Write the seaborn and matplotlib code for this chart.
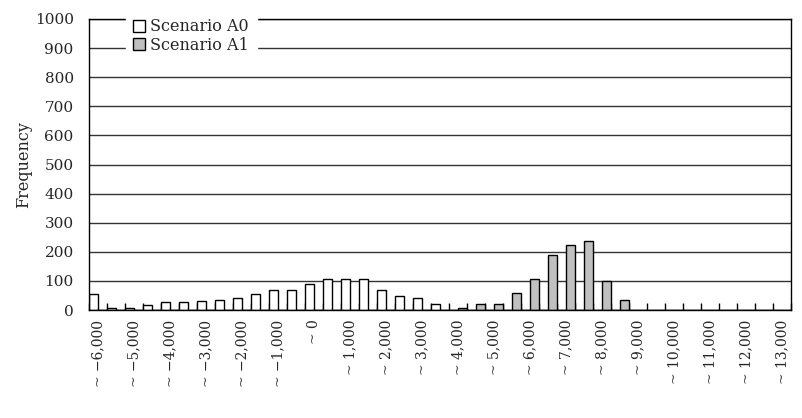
import matplotlib
matplotlib.use("Agg")
import matplotlib.pyplot as plt
from matplotlib.patches import Patch
import pandas as pd
import seaborn as sns
import numpy as np

# bins of 500, labelled by their upper bound
bins = [-6000, -5500, -5000, -4500, -4000, -3500, -3000, -2500, -2000, -1500,
        -1000, -500, 0, 500, 1000, 1500, 2000, 2500, 3000, 3500,
        4000, 4500, 5000, 5500, 6000, 6500, 7000, 7500, 8000, 8500,
        9000, 9500, 10000, 10500, 11000, 11500, 12000, 12500, 13000]

scenario_a0 = [55, 7, 6, 17, 28, 28, 32, 36, 40, 55,
               68, 68, 88, 106, 106, 106, 68, 49, 40, 19,
               0, 0, 0, 0, 0, 0, 0, 0, 0, 0,
               0, 0, 0, 0, 0, 0, 0, 0, 0]

scenario_a1 = [0, 0, 0, 0, 0, 0, 0, 0, 0, 0,
               0, 0, 0, 0, 0, 0, 0, 0, 0, 0,
               6, 19, 19, 57, 106, 190, 224, 238, 100, 33,
               0, 0, 0, 0, 0, 0, 0, 0, 0]

series_names = ["Scenario A0", "Scenario A1"]
colors = {"Scenario A0": "white", "Scenario A1": "#c0c0c0"}


def make_label(b):
    return "~ " + f"{b:,}".replace("-", "−")


def main():
    sns.set_theme(style="white")
    plt.rcParams["font.family"] = ["DejaVu Serif", "Noto Sans CJK JP"]
    plt.rcParams["font.size"] = 10

    labels = [make_label(b) for b in bins]
    df = pd.DataFrame({
        "bin": labels * 2,
        "count": scenario_a0 + scenario_a1,
        "scenario": [series_names[0]] * len(bins) + [series_names[1]] * len(bins),
    })

    fig = plt.figure(figsize=(8.03, 4.18), dpi=100)
    ax = fig.add_axes([89 / 803, 1 - 310 / 418, 702 / 803, 291 / 418])

    sns.barplot(data=df, x="bin", y="count", hue="scenario", order=labels,
                hue_order=series_names, palette=colors, edgecolor="black",
                linewidth=1, width=1.0, ax=ax, legend=False)

    ax.set_axisbelow(True)
    ax.set_ylim(0, 1000)
    ax.set_yticks(np.arange(0, 1001, 100))
    ax.yaxis.grid(True, color="#333333", linewidth=1)
    ax.tick_params(axis="y", length=0, pad=11, labelsize=11)

    # label every other category, small inward ticks on the boundaries
    n = len(bins)
    ax.set_xlim(-0.5, n - 0.5)
    ax.set_xticks(np.arange(0, n, 2))
    ax.set_xticklabels(labels[::2], rotation=90, fontsize=10)
    ax.set_xticks(np.arange(-0.5, n, 1), minor=True)
    ax.tick_params(axis="x", which="major", length=0, pad=7)
    ax.tick_params(axis="x", which="minor", direction="in", length=5,
                   width=1, color="black", bottom=True)

    for s in ax.spines.values():
        s.set_visible(True)
        s.set_color("black")
        s.set_linewidth(1)

    ax.set_xlabel("")
    ax.set_ylabel("Frequency", fontsize=11.5, labelpad=2)

    handles = [Patch(facecolor=colors[k], edgecolor="black", linewidth=1) for k in series_names]
    ax.legend(handles, series_names, loc="upper left",
              bbox_to_anchor=(0.052, 1.03), borderaxespad=0,
              frameon=True, fancybox=False, framealpha=1,
              facecolor="white", edgecolor="white",
              handlelength=0.75, handleheight=0.75, handletextpad=0.3,
              labelspacing=0.1, borderpad=0.5, fontsize=11.5)

    fig.savefig("out.png", dpi=100)


if __name__ == "__main__":
    main()
